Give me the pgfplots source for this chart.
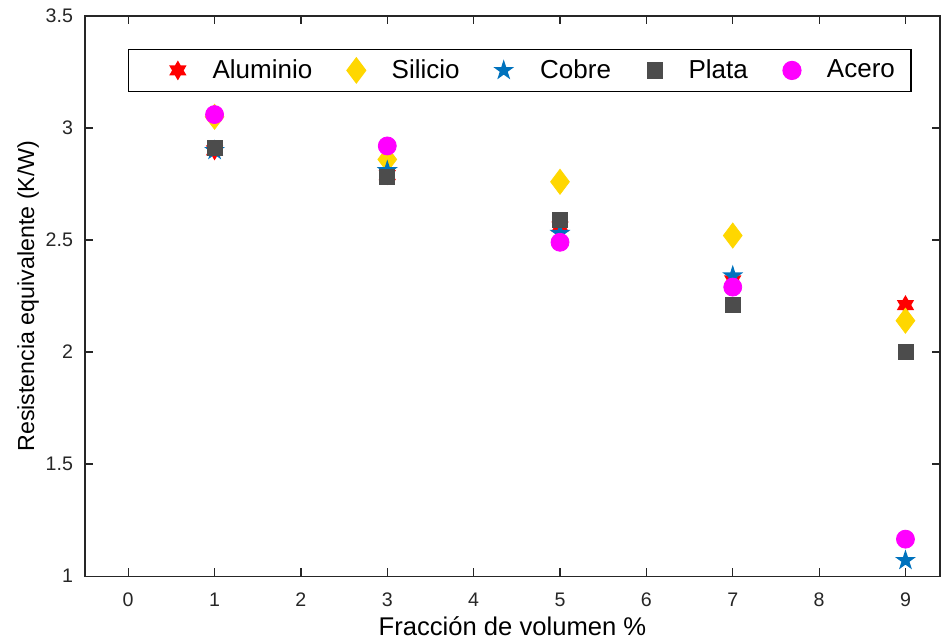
\documentclass[border=0pt]{standalone}
\usepackage{fontspec}
\setmainfont{Liberation Sans}
\usepackage{pgfplots}
\pgfplotsset{compat=1.18}
\usetikzlibrary{calc}

\definecolor{alu}{rgb}{1,0,0}
\definecolor{sil}{rgb}{1,0.843,0}
\definecolor{cob}{rgb}{0,0.447,0.741}
\definecolor{pla}{rgb}{0.3,0.3,0.3}
\definecolor{ace}{rgb}{1,0,1}
\definecolor{axgray}{rgb}{0.15,0.15,0.15}

% filled six-pointed star
\pgfdeclareplotmark{hexagram}{%
  \pgfpathmoveto{\pgfpointpolar{90}{\pgfplotmarksize}}%
  \pgfpathlineto{\pgfpointpolar{120}{0.577\pgfplotmarksize}}%
  \pgfpathlineto{\pgfpointpolar{150}{\pgfplotmarksize}}%
  \pgfpathlineto{\pgfpointpolar{180}{0.577\pgfplotmarksize}}%
  \pgfpathlineto{\pgfpointpolar{210}{\pgfplotmarksize}}%
  \pgfpathlineto{\pgfpointpolar{240}{0.577\pgfplotmarksize}}%
  \pgfpathlineto{\pgfpointpolar{270}{\pgfplotmarksize}}%
  \pgfpathlineto{\pgfpointpolar{300}{0.577\pgfplotmarksize}}%
  \pgfpathlineto{\pgfpointpolar{330}{\pgfplotmarksize}}%
  \pgfpathlineto{\pgfpointpolar{0}{0.577\pgfplotmarksize}}%
  \pgfpathlineto{\pgfpointpolar{30}{\pgfplotmarksize}}%
  \pgfpathlineto{\pgfpointpolar{60}{0.577\pgfplotmarksize}}%
  \pgfpathclose\pgfusepathqfill}
% filled five-pointed star
\pgfdeclareplotmark{pentagram}{%
  \pgfpathmoveto{\pgfpointpolar{90}{\pgfplotmarksize}}%
  \pgfpathlineto{\pgfpointpolar{126}{0.382\pgfplotmarksize}}%
  \pgfpathlineto{\pgfpointpolar{162}{\pgfplotmarksize}}%
  \pgfpathlineto{\pgfpointpolar{198}{0.382\pgfplotmarksize}}%
  \pgfpathlineto{\pgfpointpolar{234}{\pgfplotmarksize}}%
  \pgfpathlineto{\pgfpointpolar{270}{0.382\pgfplotmarksize}}%
  \pgfpathlineto{\pgfpointpolar{306}{\pgfplotmarksize}}%
  \pgfpathlineto{\pgfpointpolar{342}{0.382\pgfplotmarksize}}%
  \pgfpathlineto{\pgfpointpolar{18}{\pgfplotmarksize}}%
  \pgfpathlineto{\pgfpointpolar{54}{0.382\pgfplotmarksize}}%
  \pgfpathclose\pgfusepathqfill}

\begin{document}
\begin{tikzpicture}
\begin{axis}[
  scale only axis,
  width=427.4pt, height=280pt,
  xmin=-0.5, xmax=9.4,
  ymin=1, ymax=3.5,
  xtick={0,1,...,9},
  ytick={1,1.5,2,2.5,3,3.5},
  tick align=inside,
  major tick length=4pt,
  axis line style={color=axgray, line width=0.6pt},
  tick style={color=axgray, line width=0.6pt},
  ticklabel style={font=\fontsize{9.8}{11}\selectfont, color=axgray},
  xticklabel style={yshift=-5pt},
  yticklabel style={xshift=-2.5pt},
  /pgf/number format/assume math mode=true,
  xlabel={Fracción de volumen \%},
  ylabel={Resistencia equivalente (K/W)},
  xlabel style={font=\fontsize{12.8}{14}\selectfont, color=black, yshift=2pt},
  ylabel style={font=\fontsize{11.6}{13}\selectfont, color=black, yshift=-3.5pt},
  legend columns=5,
  legend style={at={(axis cs:4.535,3.257)}, anchor=center,
    draw=black, line width=0.6pt,
    font=\fontsize{13}{15}\selectfont,
    /tikz/every even column/.append style={column sep=1.5pt},
    inner xsep=6pt, inner ysep=3pt},
  legend image code/.code={%
    \path[draw=none, fill=none] (-10pt,0pt) -- (0pt,0pt);
    \draw[only marks, mark repeat=2, mark phase=2]
      plot coordinates {(0cm,0cm) (0.3cm,0cm) (0.6cm,0cm)};},
  legend cell align=left,
]
\addplot[only marks, mark=hexagram, mark size=5pt, color=alu]
  coordinates {(1,2.90) (3,2.79) (5,2.56) (7,2.32) (9,2.21)};
\addlegendentry{\hspace{11pt}Aluminio}
\addplot[only marks, mark=diamond*, mark size=6.25pt, color=sil, mark options={fill=sil, draw=sil}]
  coordinates {(1,3.05) (3,2.86) (5,2.76) (7,2.52) (9,2.14)};
\addlegendentry{\hspace{11pt}Silicio}
\addplot[only marks, mark=pentagram, mark size=5.5pt, color=cob]
  coordinates {(1,2.90) (3,2.81) (5,2.53) (7,2.34) (9,1.07)};
\addlegendentry{\hspace{11pt}Cobre}
\addplot[only marks, mark=square*, mark size=3.75pt, color=pla, mark options={fill=pla, draw=pla}]
  coordinates {(1,2.91) (3,2.78) (5,2.59) (7,2.21) (9,2.00)};
\addlegendentry{\hspace{11pt}Plata}
\addplot[only marks, mark=*, mark size=4.5pt, color=ace, mark options={fill=ace, draw=ace}]
  coordinates {(1,3.06) (3,2.92) (5,2.49) (7,2.29) (9,1.165)};
\addlegendentry{\hspace{11pt}Acero\hspace{-1pt}}
\end{axis}
\pgfresetboundingbox
\useasboundingbox ($(current axis.south west)+(-42.5pt,-32.5pt)$) rectangle ($(current axis.north east)+(0.5pt,8pt)$);
\end{tikzpicture}
\end{document}
